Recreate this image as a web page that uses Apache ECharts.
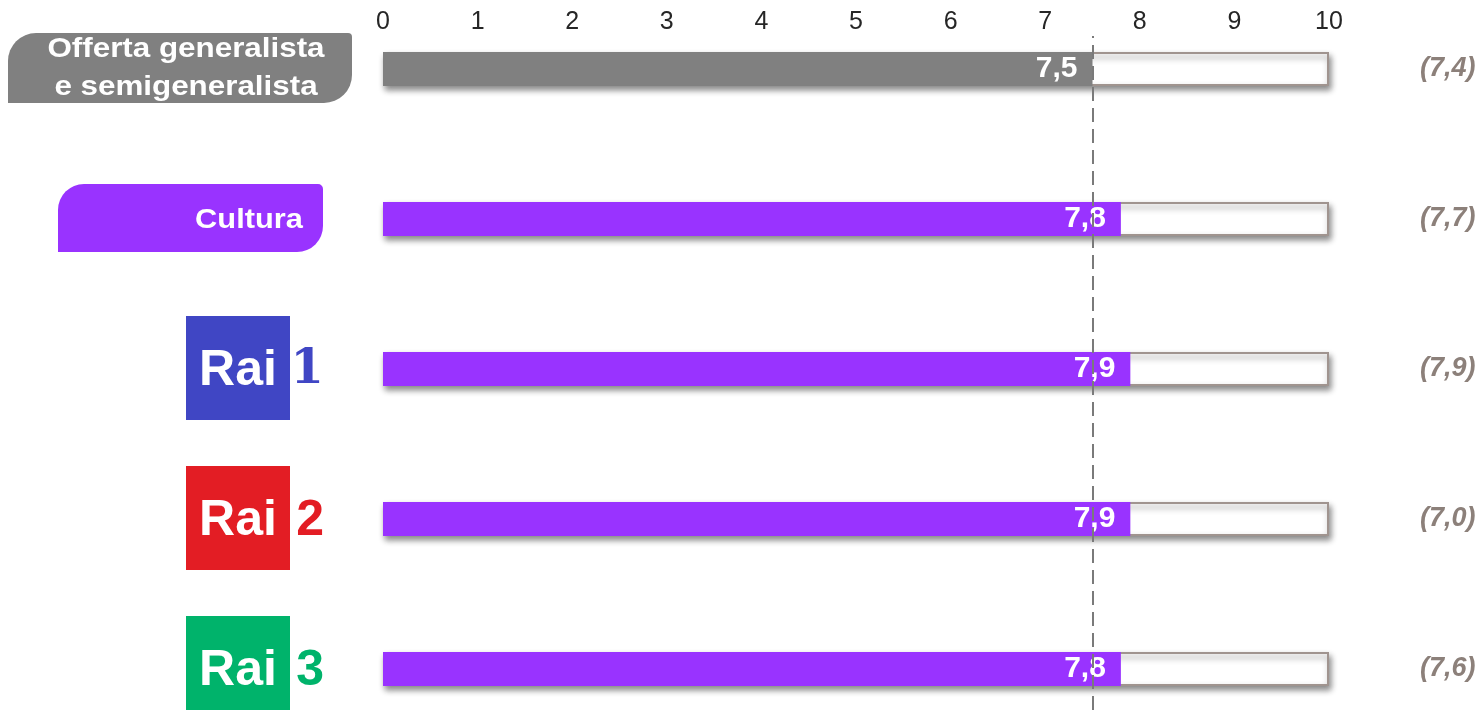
<!DOCTYPE html>
<html>
<head>
<meta charset="utf-8">
<script src="https://cdn.jsdelivr.net/npm/echarts@6/dist/echarts.min.js"></script>
<style>
html,body{margin:0;padding:0;background:#fff;}
#chart{width:1481px;height:710px;}
</style>
</head>
<body>
<div id="chart"></div>
<script>
const categories = ['Offerta generalista e semigeneralista', 'Cultura', 'Rai 1', 'Rai 2', 'Rai 3'];
const values = [7.5, 7.8, 7.9, 7.9, 7.8];
const previous = [7.4, 7.7, 7.9, 7.0, 7.6];
const scaleMin = 0;
const scaleMax = 10;
const tickStep = 1;
const benchmark = values[0];
const barColors = ['#808080', '#9933ff', '#9933ff', '#9933ff', '#9933ff'];

const fmt = v => v.toFixed(1).replace('.', ',');
const FONT = '"Liberation Sans", Arial, sans-serif';

const chart = echarts.init(document.getElementById('chart'), null, {renderer: 'canvas'});

chart.setOption({
  animation: false,
  backgroundColor: '#ffffff',
  grid: [
    {left: 383, right: 152, top: 69, bottom: 41},
    {left: 383, right: 152, top: 36, bottom: 0}
  ],
  xAxis: [
    {
      gridIndex: 0, type: 'value', min: scaleMin, max: scaleMax, interval: tickStep,
      position: 'top',
      axisLine: {show: false}, axisTick: {show: false}, splitLine: {show: false},
      axisLabel: {fontSize: 25, color: '#262626', margin: 34, fontFamily: FONT}
    },
    {gridIndex: 1, type: 'value', min: scaleMin, max: scaleMax, show: false}
  ],
  yAxis: [
    {
      gridIndex: 0, type: 'category', data: categories, inverse: true, boundaryGap: false,
      axisLine: {show: false}, axisTick: {show: false}, axisLabel: {show: false}, splitLine: {show: false}
    },
    {
      gridIndex: 0, type: 'category', data: categories, inverse: true, boundaryGap: false,
      position: 'right',
      axisLine: {show: false}, axisTick: {show: false}, splitLine: {show: false},
      axisLabel: {
        margin: 91, fontSize: 27, fontWeight: 'bold', fontStyle: 'italic', color: '#8c807a', fontFamily: FONT,
        formatter: (v, i) => '(' + fmt(previous[i]) + ')'
      }
    },
    {gridIndex: 1, type: 'value', min: 0, max: 1, show: false}
  ],
  series: [
    {
      type: 'bar', xAxisIndex: 0, yAxisIndex: 0, silent: true,
      data: categories.map(() => scaleMax),
      barWidth: 34,
      itemStyle: {
        color: '#ffffff', borderColor: '#a0948f', borderWidth: 2,
        shadowColor: 'rgba(0,0,0,0.45)', shadowBlur: 6, shadowOffsetY: 4, shadowOffsetX: 2
      },
      z: 1
    },
    {
      type: 'bar', xAxisIndex: 0, yAxisIndex: 0, barGap: '-100%', barWidth: 34,
      data: values.map((v, i) => ({value: v, itemStyle: {color: barColors[i]}})),
      label: {
        show: true, position: 'insideRight', distance: 15, color: '#ffffff',
        fontSize: 30, fontWeight: 'bold', fontFamily: FONT,
        formatter: p => fmt(p.value)
      },
      z: 2
    },
    {
      type: 'line', xAxisIndex: 1, yAxisIndex: 2, data: [], symbol: 'none',
      markLine: {
        silent: true, symbol: ['none', 'none'],
        label: {show: false},
        lineStyle: {color: '#7a7a7a', width: 2, type: [14, 7]},
        data: [{xAxis: benchmark}]
      },
      z: 5
    }
  ]
});

// Left-hand category badges, positioned through the category axis
const ys = categories.map(c => chart.convertToPixel({yAxisIndex: 0}, c));
const logoColors = {'Rai 1': '#4046c4', 'Rai 2': '#e31d24', 'Rai 3': '#00b36b'};
const graphics = [];

categories.forEach((cat, i) => {
  const cy = ys[i];
  if (i === 0) {
    graphics.push({
      type: 'rect', shape: {x: 8, y: cy - 36, width: 344, height: 70, r: [28, 4, 28, 0]},
      style: {fill: '#808080'}, z: 10
    });
    graphics.push({
      type: 'text', x: 186, y: cy - 1, scaleX: 1.12, z: 11,
      style: {
        text: 'Offerta generalista\ne semigeneralista', fill: '#ffffff',
        font: 'bold 28px ' + FONT, textAlign: 'center', textVerticalAlign: 'middle',
        align: 'center', verticalAlign: 'middle', lineHeight: 38
      }
    });
  } else if (cat === 'Cultura') {
    graphics.push({
      type: 'rect', shape: {x: 58, y: cy - 35, width: 265, height: 68, r: [26, 5, 26, 0]},
      style: {fill: '#9933ff'}, z: 10
    });
    graphics.push({
      type: 'text', x: 249, y: cy + 1, scaleX: 1.1, z: 11,
      style: {
        text: cat, fill: '#ffffff', font: 'bold 28px ' + FONT,
        textAlign: 'center', textVerticalAlign: 'middle', align: 'center', verticalAlign: 'middle'
      }
    });
  } else {
    const col = logoColors[cat];
    const num = cat.split(' ')[1];
    graphics.push({
      type: 'rect', shape: {x: 186, y: cy - 53, width: 104, height: 104},
      style: {fill: col}, z: 10
    });
    graphics.push({
      type: 'text', x: 238, y: cy + 2, z: 11,
      style: {
        text: 'Rai', fill: '#ffffff', font: 'bold 50px ' + FONT,
        textAlign: 'center', textVerticalAlign: 'middle', align: 'center', verticalAlign: 'middle'
      }
    });
    graphics.push({
      type: 'text', x: 324, y: cy + 2, z: 11,
      style: {
        text: num, fill: col,
        font: (num === '1' ? 'bold 48px "DejaVu Serif", serif' : 'bold 50px ' + FONT),
        textAlign: 'right', textVerticalAlign: 'middle', align: 'right', verticalAlign: 'middle'
      }
    });
  }
});

chart.setOption({graphic: graphics});
</script>
</body>
</html>
